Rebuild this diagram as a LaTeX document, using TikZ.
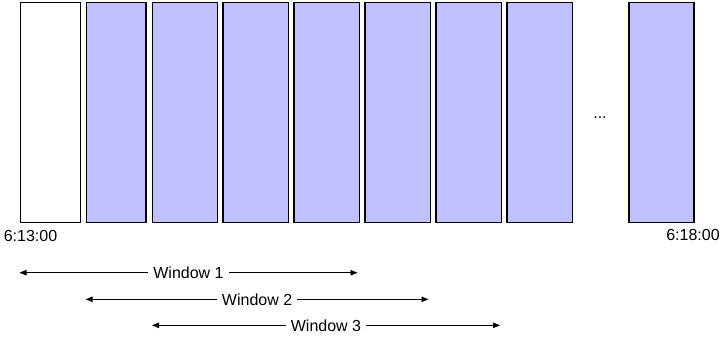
\documentclass[tikz,border=0pt]{standalone}
\usepackage{fontspec}
\setmainfont{Liberation Sans}
\usetikzlibrary{arrows.meta}
\definecolor{slotfill}{RGB}{192,192,255}
\begin{document}
\begin{tikzpicture}[x=1bp,y=-1bp,
  slot/.style={draw=black,line width=1.2bp,inner sep=0pt,minimum height=220.5bp,anchor=north west},
  lbl/.style={font=\fontsize{16bp}{19bp}\selectfont,inner sep=0pt},
  span/.style={{Triangle[length=7bp,width=5.5bp]}-{Triangle[length=7bp,width=5.5bp]},line width=0.8bp},
  wlbl/.style={font=\fontsize{16bp}{19bp}\selectfont,fill=white,inner xsep=5bp,inner ysep=1bp}]
\useasboundingbox (0,0) rectangle (727,340);
\node[slot,fill=white,minimum width=60bp] (b1) at (19.5,1.5) {};
\node[slot,fill=slotfill,minimum width=59.6bp] (b2) at (85.7,1.5) {};
\node[slot,fill=slotfill,minimum width=65bp] (b3) at (151.7,1.5) {};
\node[slot,fill=slotfill,minimum width=65.4bp] (b4) at (222.3,1.5) {};
\node[slot,fill=slotfill,minimum width=65.4bp] (b5) at (293.3,1.5) {};
\node[slot,fill=slotfill,minimum width=65.4bp] (b6) at (364.3,1.5) {};
\node[slot,fill=slotfill,minimum width=65.4bp] (b7) at (435.3,1.5) {};
\node[slot,fill=slotfill,minimum width=65.7bp] (b8) at (506.3,1.5) {};
\node[slot,fill=slotfill,minimum width=65bp] (b9) at (628.3,1.5) {};
\node[lbl] (dots) at (600,118) {...};
\node[lbl] (t0) at (30.5,236) {6:13:00};
\node[lbl] (t1) at (693,235) {6:18:00};
\coordinate (w1a) at (19.5,272.7);
\coordinate (w1b) at (357.5,272.7);
\coordinate (w2a) at (85.7,299.3);
\coordinate (w2b) at (428.5,299.3);
\coordinate (w3a) at (152,325.3);
\coordinate (w3b) at (500,325.3);
\draw[span] (w1a) -- node[wlbl] (wl1) {Window 1} (w1b);
\draw[span] (w2a) -- node[wlbl] (wl2) {Window 2} (w2b);
\draw[span] (w3a) -- node[wlbl] (wl3) {Window 3} (w3b);
\end{tikzpicture}
\end{document}
